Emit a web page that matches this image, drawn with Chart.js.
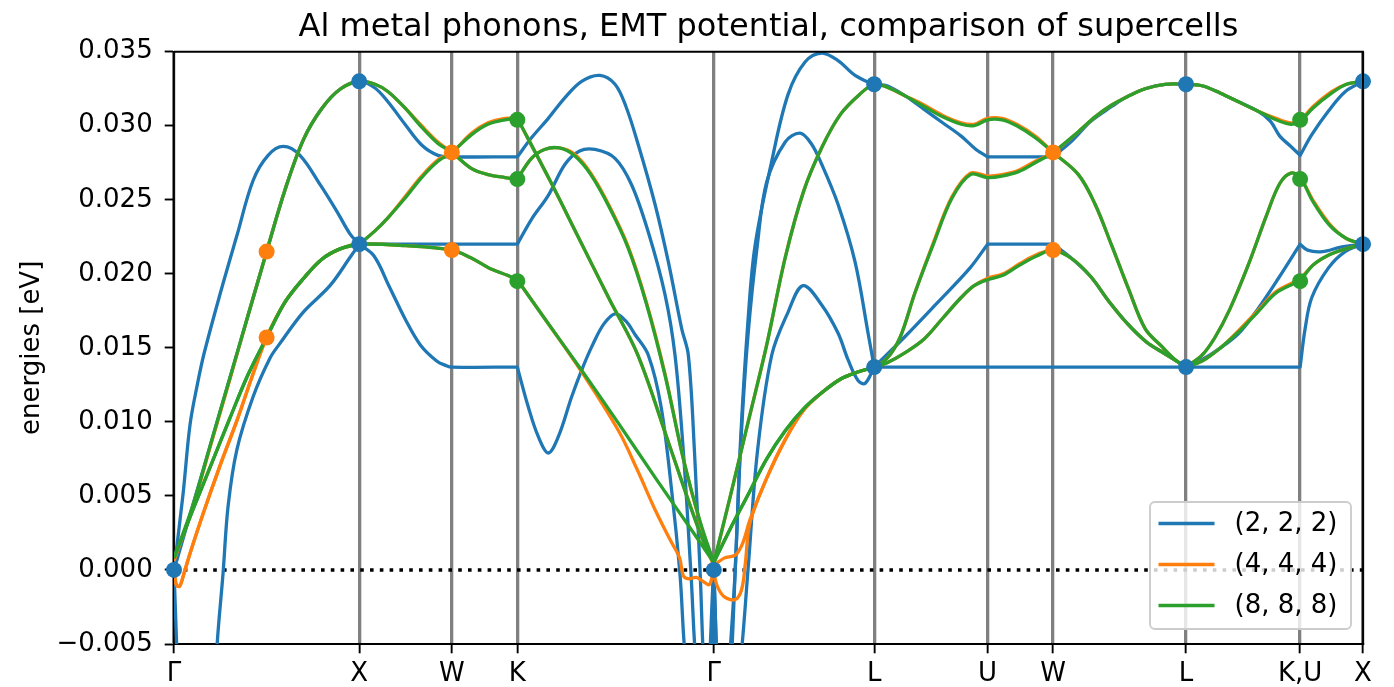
<!DOCTYPE html>
<html>
<head>
<meta charset="utf-8">
<script src="https://cdn.jsdelivr.net/npm/chart.js@4.4.1/dist/chart.umd.min.js"></script>
<style>
  html, body { margin: 0; padding: 0; background: #fff; }
  #wrap { width: 1394px; height: 687px; }
</style>
</head>
<body>
<div id="wrap"><canvas id="chart" width="1394" height="687"></canvas></div>
<script>
// High-symmetry points along the FCC path (k-distance) and their labels
const kTicks = [0, 1.0, 1.5, 1.8536, 2.9142, 3.7803, 4.3927, 4.7463, 5.464, 6.080, 6.4194];
const kLabels = ['Γ', 'X', 'W', 'K', 'Γ', 'L', 'U', 'W', 'L', 'K,U', 'X'];

const seriesLabels = ['(2, 2, 2)', '(4, 4, 4)', '(8, 8, 8)'];
const seriesColors = ['#1f77b4', '#ff7f0e', '#2ca02c'];

// (2, 2, 2) supercell bands, [k, energy eV]
const blue1 = [
  [0, 0], [0.02, -0.007], [0.06, -0.020], [0.12, -0.026], [0.18, -0.020], [0.215, -0.011], [0.231, -0.0054],
  [0.265, -0.0002], [0.292, 0.0043], [0.339, 0.0081], [0.427, 0.0117], [0.518, 0.0143], [0.572, 0.0153],
  [0.697, 0.0174], [0.842, 0.0192], [0.95, 0.0211], [1.0, 0.0220], [1.0, 0.0220],
  [1.08, 0.0212], [1.16, 0.0192], [1.25, 0.0169], [1.33, 0.0152], [1.42, 0.0141], [1.47, 0.0138], [1.5, 0.0137],
  [1.8536, 0.0137], [1.8536, 0.0137],
  [1.913, 0.0110], [1.967, 0.0090], [2.021, 0.0079], [2.075, 0.0090], [2.147, 0.0117], [2.201, 0.0135],
  [2.26, 0.0152], [2.32, 0.0166], [2.381, 0.0173], [2.44, 0.0168], [2.489, 0.0159], [2.561, 0.0145],
  [2.63, 0.0110], [2.69, 0.0050], [2.73, 0.0], [2.78, -0.008], [2.86, -0.010], [2.9142, 0], [2.9142, 0],
  [2.95, -0.010], [3.0, -0.012], [3.06, -0.006], [3.099, 0.0], [3.15, 0.0080], [3.227, 0.0145], [3.315, 0.0174],
  [3.396, 0.0192], [3.497, 0.0179], [3.585, 0.0160], [3.639, 0.0142], [3.693, 0.0128], [3.731, 0.0126],
  [3.7803, 0.0137], [3.7803, 0.0137],
  [6.08, 0.0137], [6.08, 0.0137],
  [6.107, 0.0163], [6.143, 0.0184], [6.233, 0.0204], [6.323, 0.0215], [6.4194, 0.0220]
];
const blue2 = [
  [0, 0], [0.0486, 0.0051], [0.0864, 0.0098], [0.124, 0.0124], [0.162, 0.0146], [0.248, 0.0186], [0.34, 0.0226],
  [0.427, 0.0263], [0.508, 0.0280], [0.59, 0.0286], [0.68, 0.0280], [0.79, 0.0260], [0.88, 0.0242], [0.95, 0.0227],
  [1.0, 0.0220], [1.0, 0.0220],
  [1.8536, 0.0220], [1.8536, 0.0220],
  [1.931, 0.0237], [2.021, 0.0253], [2.111, 0.0274], [2.19, 0.0283], [2.273, 0.0284], [2.381, 0.0278],
  [2.471, 0.0260], [2.561, 0.0228], [2.651, 0.0186], [2.705, 0.0145], [2.75, 0.0080], [2.79, 0.0],
  [2.83, -0.008], [2.88, -0.010], [2.9142, 0], [2.9142, 0],
  [2.94, -0.008], [2.98, -0.012], [3.01, -0.006], [3.03, 0.0], [3.06, 0.0085], [3.1, 0.0160], [3.15, 0.0220],
  [3.2, 0.0262], [3.3, 0.0289], [3.38, 0.0295], [3.44, 0.0288], [3.497, 0.0274], [3.585, 0.0247],
  [3.677, 0.0208], [3.75, 0.0158], [3.7803, 0.0137], [3.7803, 0.0137],
  [3.95, 0.0158], [4.118, 0.0180], [4.298, 0.0204], [4.3927, 0.0220], [4.3927, 0.0220],
  [4.7463, 0.0220], [4.7463, 0.0220],
  [4.85, 0.0210], [4.95, 0.0198], [5.05, 0.0181], [5.15, 0.0166], [5.25, 0.0154], [5.35, 0.0146],
  [5.464, 0.0137], [5.464, 0.0137],
  [5.55, 0.0142], [5.65, 0.0150], [5.75, 0.0160], [5.85, 0.0176], [5.963, 0.0197], [6.08, 0.0220], [6.08, 0.0220],
  [6.12, 0.0216], [6.2, 0.0215], [6.3, 0.0218], [6.4194, 0.0220]
];
const blue3 = [
  [0, 0], [0.1, 0.0043], [0.2, 0.0086], [0.3, 0.0129], [0.4, 0.0172], [0.5, 0.0215], [0.6, 0.0257],
  [0.7, 0.0291], [0.8, 0.0312], [0.9, 0.0325], [1.0, 0.0330],
  [1.085, 0.03255], [1.156, 0.0316], [1.247, 0.0301], [1.337, 0.0287], [1.425, 0.0280], [1.5, 0.0279],
  [1.8536, 0.0279], [1.8536, 0.0279],
  [1.931, 0.0292], [2.021, 0.0305], [2.111, 0.0319], [2.201, 0.0330], [2.3, 0.0334], [2.381, 0.0328],
  [2.44, 0.0313], [2.507, 0.0287], [2.597, 0.0247], [2.669, 0.0208], [2.741, 0.0163], [2.777, 0.0145],
  [2.81, 0.008], [2.84, 0.0], [2.87, -0.008], [2.9, -0.006], [2.9142, 0], [2.9142, 0],
  [2.93, -0.008], [2.97, -0.012], [3.0, -0.006], [3.03, 0.0], [3.06, 0.0090], [3.1, 0.0170], [3.137, 0.0219],
  [3.227, 0.0276], [3.315, 0.0321], [3.407, 0.0343], [3.497, 0.0349], [3.585, 0.0344], [3.677, 0.0334],
  [3.7803, 0.0328],
  [3.85, 0.0327], [3.95, 0.0320], [4.05, 0.0311], [4.15, 0.0302], [4.25, 0.0293], [4.33, 0.0284],
  [4.3927, 0.0279], [4.3927, 0.0279],
  [4.7463, 0.0279], [4.7463, 0.0279],
  [4.85, 0.0290], [4.95, 0.0303], [5.063, 0.0313], [5.15, 0.0320], [5.243, 0.0325], [5.35, 0.0328], [5.464, 0.0328],
  [5.55, 0.0327], [5.65, 0.0322], [5.75, 0.0316], [5.85, 0.0310], [5.92, 0.0303], [5.97, 0.0293], [6.03, 0.0286],
  [6.08, 0.0280], [6.08, 0.0280],
  [6.143, 0.0294], [6.233, 0.0310], [6.323, 0.0323], [6.4194, 0.0330]
];

// (4, 4, 4) supercell bands
const orange1 = [
  [0, 0.0003], [0.012, -0.0010], [0.03, -0.0011], [0.05, -0.0004], [0.086, 0.0011], [0.157, 0.0038], [0.25, 0.0071],
  [0.34, 0.0101], [0.42, 0.0130], [0.5, 0.0157], [0.6, 0.0181], [0.7, 0.0197], [0.8, 0.0210], [0.9, 0.0217], [1.0, 0.0220],
  [1.25, 0.0219], [1.5, 0.0216], [1.6, 0.0211], [1.7, 0.0204], [1.8, 0.0199], [1.8536, 0.0196], [1.8536, 0.0196],
  [2.0, 0.0170], [2.2, 0.0134], [2.4, 0.0094], [2.5, 0.0068], [2.6, 0.0040], [2.68, 0.0020], [2.73, 0.0008],
  [2.75, -0.0004], [2.78, -0.0006], [2.82, -0.0005], [2.86, -0.0008], [2.89, -0.0010], [2.9142, 0.0], [2.9142, 0.0],
  [2.93, -0.0010], [2.97, -0.0018], [3.03, -0.0020], [3.065, -0.0013], [3.085, 0.0005], [3.11, 0.0032], [3.2, 0.0062],
  [3.3, 0.0088], [3.4, 0.0108], [3.5, 0.0120], [3.6, 0.0129], [3.7, 0.0134], [3.7803, 0.0137], [3.7803, 0.0137],
  [3.85, 0.0140], [3.95, 0.0147], [4.05, 0.0156], [4.15, 0.0170], [4.25, 0.0184], [4.32, 0.0192], [4.3927, 0.0197],
  [4.476, 0.0200], [4.568, 0.0207], [4.658, 0.0213], [4.7463, 0.0216],
  [4.85, 0.0210], [4.95, 0.0198], [5.05, 0.0181], [5.15, 0.0166], [5.25, 0.0154], [5.35, 0.0146], [5.464, 0.0137], [5.464, 0.0137],
  [5.55, 0.0141], [5.65, 0.0150], [5.75, 0.0162], [5.85, 0.0175], [5.95, 0.0188], [6.08, 0.0197],
  [6.15, 0.0206], [6.24, 0.0213], [6.33, 0.0217], [6.4194, 0.0220]
];
const orange2 = [
  [0, 0.0003], [0.012, -0.0010], [0.03, -0.0011], [0.05, -0.0004], [0.086, 0.0011], [0.157, 0.0038], [0.25, 0.0071],
  [0.34, 0.0101], [0.42, 0.0130], [0.5, 0.0157], [0.6, 0.0181], [0.7, 0.0197], [0.8, 0.0210], [0.9, 0.0217],
  [1.0, 0.0220], [1.0, 0.0220],
  [1.085, 0.0229], [1.156, 0.0238], [1.247, 0.0252], [1.337, 0.0266], [1.425, 0.0277], [1.5, 0.0282],
  [1.607, 0.0295], [1.695, 0.0302], [1.787, 0.0305], [1.8536, 0.0305], [1.8536, 0.0305],
  [2.03, 0.0263], [2.19, 0.0223], [2.35, 0.0183], [2.505, 0.0145], [2.678, 0.0083], [2.84, 0.0025],
  [2.9142, 0.0003], [2.9142, 0.0003],
  [2.97, 0.0008], [3.03, 0.0010], [3.07, 0.0018], [3.11, 0.0034], [3.2, 0.0062], [3.3, 0.0088], [3.4, 0.0108],
  [3.5, 0.0120], [3.6, 0.0129], [3.7, 0.0134], [3.7803, 0.0137], [3.7803, 0.0137],
  [3.85, 0.0143], [3.92, 0.0157], [4.0, 0.0187], [4.1, 0.0221], [4.2, 0.0252], [4.3, 0.0268], [4.3927, 0.0266],
  [4.47, 0.0267], [4.56, 0.0270], [4.65, 0.0276], [4.7463, 0.0282],
  [4.883, 0.0296], [4.973, 0.0306], [5.063, 0.0314], [5.153, 0.0320], [5.243, 0.0325], [5.35, 0.0328], [5.464, 0.0328],
  [5.55, 0.0327], [5.65, 0.0322], [5.75, 0.0316], [5.85, 0.0310], [5.95, 0.0305], [6.03, 0.0302], [6.08, 0.0304],
  [6.15, 0.0313], [6.25, 0.0323], [6.33, 0.0328], [6.4194, 0.0330]
];
const orange3 = [
  [0, 0.0006], [0.1, 0.0042], [0.2, 0.0085], [0.3, 0.0128], [0.4, 0.0172], [0.5, 0.0215], [0.6, 0.0257],
  [0.7, 0.0291], [0.8, 0.0312], [0.9, 0.0325], [1.0, 0.0330],
  [1.085, 0.0328], [1.156, 0.0323], [1.247, 0.0312], [1.337, 0.0300], [1.425, 0.0289], [1.5, 0.0282],
  [1.607, 0.0271], [1.695, 0.0267], [1.787, 0.0265], [1.8536, 0.0264], [1.8536, 0.0264],
  [1.93, 0.0278], [2.0, 0.0284], [2.08, 0.0285], [2.16, 0.0281], [2.25, 0.0268], [2.35, 0.0246], [2.45, 0.0219],
  [2.55, 0.0181], [2.65, 0.0133], [2.75, 0.0075], [2.84, 0.0032], [2.9142, 0.0004], [2.9142, 0.0004],
  [3.0, 0.0048], [3.1, 0.0100], [3.2, 0.0152], [3.3, 0.0211], [3.4, 0.0256], [3.5, 0.0286], [3.6, 0.0308],
  [3.7, 0.0321], [3.7803, 0.0328],
  [3.85, 0.0326], [3.95, 0.0320], [4.05, 0.0314], [4.15, 0.0307], [4.25, 0.0302], [4.32, 0.0301], [4.3927, 0.0305],
  [4.47, 0.0305], [4.55, 0.0301], [4.65, 0.0293], [4.7463, 0.0282],
  [4.883, 0.0267], [4.973, 0.0247], [5.063, 0.0219], [5.153, 0.0190], [5.243, 0.0163], [5.333, 0.0151],
  [5.405, 0.0142], [5.464, 0.0137], [5.464, 0.0137],
  [5.55, 0.0145], [5.62, 0.0157], [5.7, 0.0176], [5.8, 0.0206], [5.9, 0.0240], [5.97, 0.0261], [6.03, 0.0268],
  [6.08, 0.0265],
  [6.148, 0.0250], [6.237, 0.0234], [6.327, 0.0224], [6.4194, 0.0220]
];

// (8, 8, 8) supercell bands
const green1 = [
  [0, 0.0008], [0.1, 0.0040], [0.2, 0.0071], [0.3, 0.0102], [0.4, 0.0132], [0.5, 0.0157], [0.6, 0.0181],
  [0.7, 0.0197], [0.8, 0.0210], [0.9, 0.0217], [1.0, 0.0220],
  [1.25, 0.0219], [1.5, 0.0216], [1.6, 0.0211], [1.7, 0.0204], [1.8, 0.0199], [1.8536, 0.0196], [1.8536, 0.0196],
  [2.0, 0.0170], [2.2, 0.0135], [2.4, 0.0099], [2.6, 0.0062], [2.8, 0.0026], [2.9142, 0.0005], [2.9142, 0.0005],
  [3.0, 0.0027], [3.1, 0.0051], [3.2, 0.0075], [3.3, 0.0094], [3.4, 0.0109], [3.5, 0.0120], [3.6, 0.0129],
  [3.7, 0.0134], [3.7803, 0.0137], [3.7803, 0.0137],
  [3.85, 0.0140], [3.95, 0.0147], [4.05, 0.0156], [4.15, 0.0170], [4.25, 0.0184], [4.32, 0.0192], [4.3927, 0.0196],
  [4.476, 0.0199], [4.568, 0.0206], [4.658, 0.0212], [4.7463, 0.0216],
  [4.85, 0.0210], [4.95, 0.0198], [5.05, 0.0181], [5.15, 0.0166], [5.25, 0.0154], [5.35, 0.0146], [5.464, 0.0137], [5.464, 0.0137],
  [5.55, 0.0141], [5.65, 0.0150], [5.75, 0.0161], [5.85, 0.0174], [5.95, 0.0187], [6.08, 0.0196],
  [6.15, 0.0206], [6.24, 0.0213], [6.33, 0.0217], [6.4194, 0.0220]
];
const green2 = [
  [0, 0.0008], [0.1, 0.0040], [0.2, 0.0071], [0.3, 0.0102], [0.4, 0.0132], [0.5, 0.0157], [0.6, 0.0181],
  [0.7, 0.0197], [0.8, 0.0210], [0.9, 0.0217], [1.0, 0.0220], [1.0, 0.0220],
  [1.085, 0.0229], [1.156, 0.0238], [1.247, 0.0251], [1.337, 0.0265], [1.425, 0.0276], [1.5, 0.0282],
  [1.607, 0.0294], [1.695, 0.0301], [1.787, 0.0304], [1.8536, 0.0305], [1.8536, 0.0305],
  [2.03, 0.0263], [2.19, 0.0223], [2.35, 0.0183], [2.505, 0.0145], [2.678, 0.0083], [2.84, 0.0025],
  [2.9142, 0.0005], [2.9142, 0.0005],
  [3.0, 0.0027], [3.1, 0.0051], [3.2, 0.0075], [3.3, 0.0094], [3.4, 0.0109], [3.5, 0.0120], [3.6, 0.0129],
  [3.7, 0.0134], [3.7803, 0.0137], [3.7803, 0.0137],
  [3.85, 0.0143], [3.92, 0.0157], [4.0, 0.0187], [4.1, 0.0220], [4.2, 0.0251], [4.3, 0.0267], [4.3927, 0.0265],
  [4.47, 0.0266], [4.56, 0.0269], [4.65, 0.0275], [4.7463, 0.0282],
  [4.883, 0.0296], [4.973, 0.0306], [5.063, 0.0314], [5.153, 0.0320], [5.243, 0.0325], [5.35, 0.0328], [5.464, 0.0328],
  [5.55, 0.0327], [5.65, 0.0322], [5.75, 0.0316], [5.85, 0.0310], [5.95, 0.0304], [6.03, 0.0301], [6.08, 0.0303],
  [6.15, 0.0312], [6.25, 0.0322], [6.33, 0.0328], [6.4194, 0.0330]
];
const green3 = [
  [0, 0.0008], [0.1, 0.0043], [0.2, 0.0086], [0.3, 0.0129], [0.4, 0.0172], [0.5, 0.0215], [0.6, 0.0257],
  [0.7, 0.0291], [0.8, 0.0312], [0.9, 0.0325], [1.0, 0.0330],
  [1.085, 0.0328], [1.156, 0.0323], [1.247, 0.0312], [1.337, 0.0299], [1.425, 0.0288], [1.5, 0.0282],
  [1.607, 0.0271], [1.695, 0.0267], [1.787, 0.0265], [1.8536, 0.0264], [1.8536, 0.0264],
  [1.93, 0.0278], [2.0, 0.0284], [2.08, 0.0285], [2.16, 0.0280], [2.25, 0.0267], [2.35, 0.0245], [2.45, 0.0218],
  [2.55, 0.0180], [2.65, 0.0132], [2.75, 0.0075], [2.84, 0.0033], [2.9142, 0.0005], [2.9142, 0.0005],
  [3.0, 0.0048], [3.1, 0.0100], [3.2, 0.0152], [3.3, 0.0211], [3.4, 0.0256], [3.5, 0.0286], [3.6, 0.0308],
  [3.7, 0.0321], [3.7803, 0.0328],
  [3.85, 0.0326], [3.95, 0.0320], [4.05, 0.0313], [4.15, 0.0306], [4.25, 0.0301], [4.32, 0.0300], [4.3927, 0.0304],
  [4.47, 0.0304], [4.55, 0.0300], [4.65, 0.0292], [4.7463, 0.0282],
  [4.883, 0.0267], [4.973, 0.0247], [5.063, 0.0219], [5.153, 0.0190], [5.243, 0.0163], [5.333, 0.0151],
  [5.405, 0.0142], [5.464, 0.0137], [5.464, 0.0137],
  [5.55, 0.0145], [5.62, 0.0157], [5.7, 0.0176], [5.8, 0.0206], [5.9, 0.0240], [5.97, 0.0261], [6.03, 0.0268],
  [6.08, 0.0265],
  [6.148, 0.0249], [6.237, 0.0233], [6.327, 0.0224], [6.4194, 0.0220]
];

// exact frequencies at the commensurate q-points of each supercell
const blueDots = [[0, 0], [1.0, 0.0330], [1.0, 0.0220], [2.9142, 0], [3.7803, 0.0328], [3.7803, 0.0137],
  [5.464, 0.0328], [5.464, 0.0137], [6.4194, 0.0330], [6.4194, 0.0220]];
const orangeDots = [[0.5, 0.0215], [0.5, 0.0157], [1.5, 0.0282], [1.5, 0.0216], [4.7463, 0.0282], [4.7463, 0.0216]];
const greenDots = [[1.8536, 0.0304], [1.8536, 0.0264], [1.8536, 0.0195], [6.08, 0.0304], [6.08, 0.0264], [6.08, 0.0195]];

const zeroLine = [[0, 0], [6.4194, 0]];

const FONT = 'DejaVu Sans';
const LINE_W = 3.3;

function toXY(pairs) {
    return pairs.map(p => ({ x: p[0], y: p[1] }));
}

// one dataset per band; lower `order` is drawn on top
function bandSet(pairs, color, order) {
    return {
        type: 'line',
        data: toXY(pairs),
        borderColor: color,
        borderWidth: LINE_W,
        borderJoinStyle: 'round',
        pointRadius: 0,
        tension: 0.35,
        fill: false,
        order: order,
    };
}

function dotSet(pairs, color) {
    return {
        type: 'scatter',
        data: toXY(pairs),
        backgroundColor: color,
        borderWidth: 0,
        pointRadius: 8,
        clip: false,
        order: 0,
    };
}

const datasets = [
    dotSet(blueDots, seriesColors[0]),
    dotSet(orangeDots, seriesColors[1]),
    dotSet(greenDots, seriesColors[2]),
    bandSet(green1, seriesColors[2], 1),
    bandSet(green2, seriesColors[2], 1),
    bandSet(green3, seriesColors[2], 1),
    bandSet(orange1, seriesColors[1], 2),
    bandSet(orange2, seriesColors[1], 2),
    bandSet(orange3, seriesColors[1], 2),
    bandSet(blue1, seriesColors[0], 3),
    bandSet(blue2, seriesColors[0], 3),
    bandSet(blue3, seriesColors[0], 3),
    {
        type: 'line',
        data: toXY(zeroLine),
        borderColor: '#000',
        borderWidth: 3.6,
        borderDash: [3.6, 6.2],
        pointRadius: 0,
        order: 5,
    },
];

// top and right spines
const framePlugin = {
    id: 'frame',
    afterDatasetsDraw(chart) {
        const { ctx, chartArea: a } = chart;
        ctx.save();
        ctx.strokeStyle = '#000';
        ctx.lineWidth = 1.9;
        ctx.beginPath();
        ctx.moveTo(a.left, a.top);
        ctx.lineTo(a.right, a.top);
        ctx.lineTo(a.right, a.bottom);
        ctx.stroke();
        ctx.restore();
    }
};

// matplotlib-like legend box in the lower right corner
const boxLegendPlugin = {
    id: 'boxLegend',
    afterDraw(chart) {
        const { ctx, chartArea: a } = chart;
        const w = 201, h = 127;
        const x0 = a.right - 12 - w, y0 = a.bottom - 15 - h;
        ctx.save();
        ctx.beginPath();
        ctx.roundRect(x0, y0, w, h, 5);
        ctx.fillStyle = 'rgba(255,255,255,0.8)';
        ctx.fill();
        ctx.strokeStyle = '#cccccc';
        ctx.lineWidth = 1.9;
        ctx.stroke();
        ctx.font = '26px "' + FONT + '"';
        ctx.textBaseline = 'middle';
        ctx.fillStyle = '#000';
        seriesLabels.forEach((label, i) => {
            const y = y0 + 21.5 + i * 41;
            ctx.strokeStyle = seriesColors[i];
            ctx.lineWidth = 3.6;
            ctx.beginPath();
            ctx.moveTo(x0 + 8.5, y);
            ctx.lineTo(x0 + 64.5, y);
            ctx.stroke();
            ctx.fillText(label, x0 + 84.5, y + 1);
        });
        ctx.restore();
    }
};

new Chart(document.getElementById('chart'), {
    type: 'line',
    data: { datasets },
    options: {
        responsive: false,
        animation: false,
        events: [],
        layout: { padding: { left: 0, right: 31, top: 0, bottom: 0 } },
        elements: { line: { capBezierPoints: false } },
        plugins: {
            legend: { display: false },
            tooltip: { enabled: false },
            title: {
                display: true,
                fullSize: false,
                text: 'Al metal phonons, EMT potential, comparison of supercells',
                color: '#000',
                font: { family: FONT, size: 32, weight: 'normal' },
                padding: { top: 8, bottom: 5.3 },
            },
        },
        scales: {
            x: {
                type: 'linear',
                min: 0,
                max: 6.4194,
                afterBuildTicks(axis) {
                    axis.ticks = kTicks.map(v => ({ value: v }));
                },
                afterFit(axis) { axis.height = 43; },
                ticks: {
                    autoSkip: false,
                    maxRotation: 0,
                    padding: 5,
                    color: '#000',
                    font: { family: FONT, size: 26 },
                    callback: (v, i) => kLabels[i],
                },
                grid: {
                    color: '#808080',
                    lineWidth: 3.3,
                    tickColor: '#000',
                    tickWidth: 1.9,
                    tickLength: 9.3,
                },
                border: { display: true, color: '#000', width: 1.9 },
            },
            y: {
                min: -0.005,
                max: 0.035,
                afterFit(axis) { axis.width = 174; },
                ticks: {
                    stepSize: 0.005,
                    padding: 12,
                    color: '#000',
                    font: { family: FONT, size: 26 },
                    callback: v => (v < -1e-9 ? '\u2212' : '') + Math.abs(v).toFixed(3),
                },
                grid: {
                    drawOnChartArea: false,
                    tickColor: '#000',
                    tickWidth: 1.9,
                    tickLength: 9.3,
                },
                border: { display: true, color: '#000', width: 1.9 },
                title: {
                    display: true,
                    text: 'energies [eV]',
                    color: '#000',
                    font: { family: FONT, size: 26 },
                    padding: { top: 17, bottom: 0 },
                },
            },
        },
    },
    plugins: [framePlugin, boxLegendPlugin],
});
</script>
</body>
</html>
